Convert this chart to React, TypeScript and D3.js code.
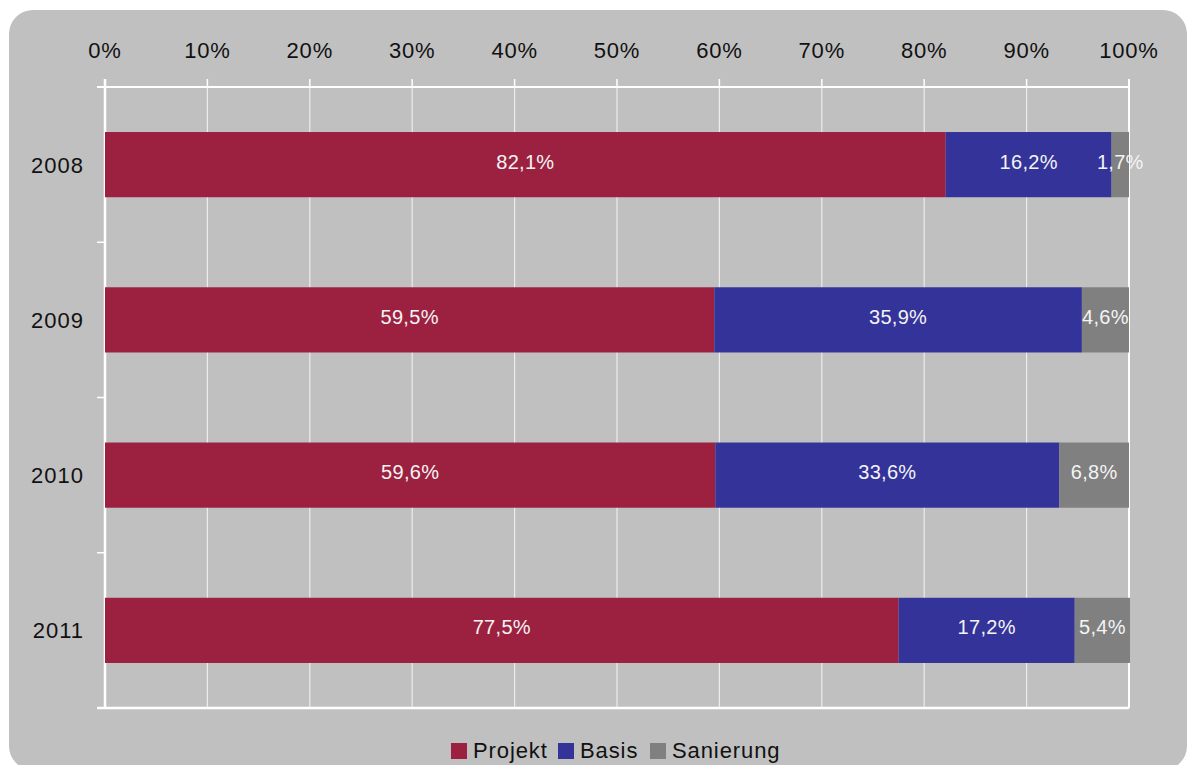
import React from "react";
import * as d3 from "d3";

const years = ["2008", "2009", "2010", "2011"];
const seriesNames = ["Projekt", "Basis", "Sanierung"];
const projekt = [82.1, 59.5, 59.6, 77.5];
const basis = [16.2, 35.9, 33.6, 17.2];
const sanierung = [1.7, 4.6, 6.8, 5.4];
const xTicks = [0, 10, 20, 30, 40, 50, 60, 70, 80, 90, 100];
const colors = ["#9C2140", "#333399", "#808080"];

const W = 1187;
const H = 765;
const left = 105;
const right = 1129;
const top = 87;
const bottom = 708;
const FONT = "'Liberation Sans', Arial, sans-serif";

export default function App() {
  const x = d3.scaleLinear().domain([0, 100]).range([left, right]);
  const y = d3.scaleBand().domain(years).range([top, bottom]).paddingInner(0.58).paddingOuter(0.29);
  const rows = years.map((yr, i) => ({ year: yr, Projekt: projekt[i], Basis: basis[i], Sanierung: sanierung[i] }));
  const stack = d3.stack<any>().keys(seriesNames)(rows);
  const fmt = (v: number) => v.toFixed(1).replace(".", ",") + "%";
  const yBoundaries = d3.range(years.length + 1).map((i) => top + (i * (bottom - top)) / years.length);

  const legendItems = [
    { name: "Projekt", x: 451 },
    { name: "Basis", x: 558 },
    { name: "Sanierung", x: 650 },
  ];

  return (
    <svg width={W} height={H} style={{ position: "absolute", left: 0, top: 0 }} fontFamily={FONT}>
      <rect x={0} y={0} width={W} height={H} fill="#ffffff" />
      <rect x={9} y={10} width={W - 9} height={760} rx={24} ry={24} fill="#C0C0C0" />
      {xTicks.map((t) => (
        <line key={"g" + t} x1={x(t)} x2={x(t)} y1={top} y2={bottom} stroke="#ececec" strokeWidth={1.2} />
      ))}
      {xTicks.map((t) => (
        <line key={"t" + t} x1={x(t)} x2={x(t)} y1={79} y2={top} stroke="#ffffff" strokeWidth={1.5} />
      ))}
      {yBoundaries.map((b, i) => (
        <line key={"yt" + i} x1={97} x2={left} y1={b} y2={b} stroke="#ffffff" strokeWidth={1.5} />
      ))}
      <line x1={97} x2={right} y1={top} y2={top} stroke="#ffffff" strokeWidth={2} />
      <line x1={97} x2={right} y1={bottom} y2={bottom} stroke="#ffffff" strokeWidth={2.5} />
      <line x1={left} x2={left} y1={79} y2={bottom} stroke="#ffffff" strokeWidth={2.5} />
      <line x1={right} x2={right} y1={79} y2={bottom} stroke="#ffffff" strokeWidth={2} />
      {stack.map((s, si) =>
        s.map((d: any, i: number) => {
          const x0 = x(d[0]);
          const x1 = x(d[1]);
          return (
            <rect key={si + "-" + i} x={x0} y={y(years[i])!} width={x1 - x0} height={y.bandwidth()} fill={colors[si]} />
          );
        })
      )}
      {stack.map((s, si) =>
        s.map((d: any, i: number) => {
          const x0 = x(d[0]);
          const x1 = x(d[1]);
          const yy = y(years[i])! + y.bandwidth() / 2;
          return (
            <text
              key={"l" + si + "-" + i}
              x={(x0 + x1) / 2}
              y={yy}
              dy="0.2em"
              textAnchor="middle"
              fontSize={20}
              fill="#f4f4f4"
              letterSpacing={0.3}
            >
              {fmt(d[1] - d[0])}
            </text>
          );
        })
      )}
      {xTicks.map((t) => (
        <text key={"xl" + t} x={x(t)} y={58} textAnchor="middle" fontSize={22} fill="#111" letterSpacing={0.8}>
          {t + "%"}
        </text>
      ))}
      {years.map((yr) => (
        <text key={"yl" + yr} x={84} y={y(yr)! + y.bandwidth() / 2} dy="0.36em" textAnchor="end" fontSize={22} fill="#111" letterSpacing={1}>
          {yr}
        </text>
      ))}
      {legendItems.map((it, i) => (
        <g key={"lg" + it.name}>
          <rect x={it.x} y={743} width={16} height={16} fill={colors[i]} />
          <text x={it.x + 22} y={758} fontSize={22} fill="#111" letterSpacing={0.9}>
            {it.name}
          </text>
        </g>
      ))}
    </svg>
  );
}
